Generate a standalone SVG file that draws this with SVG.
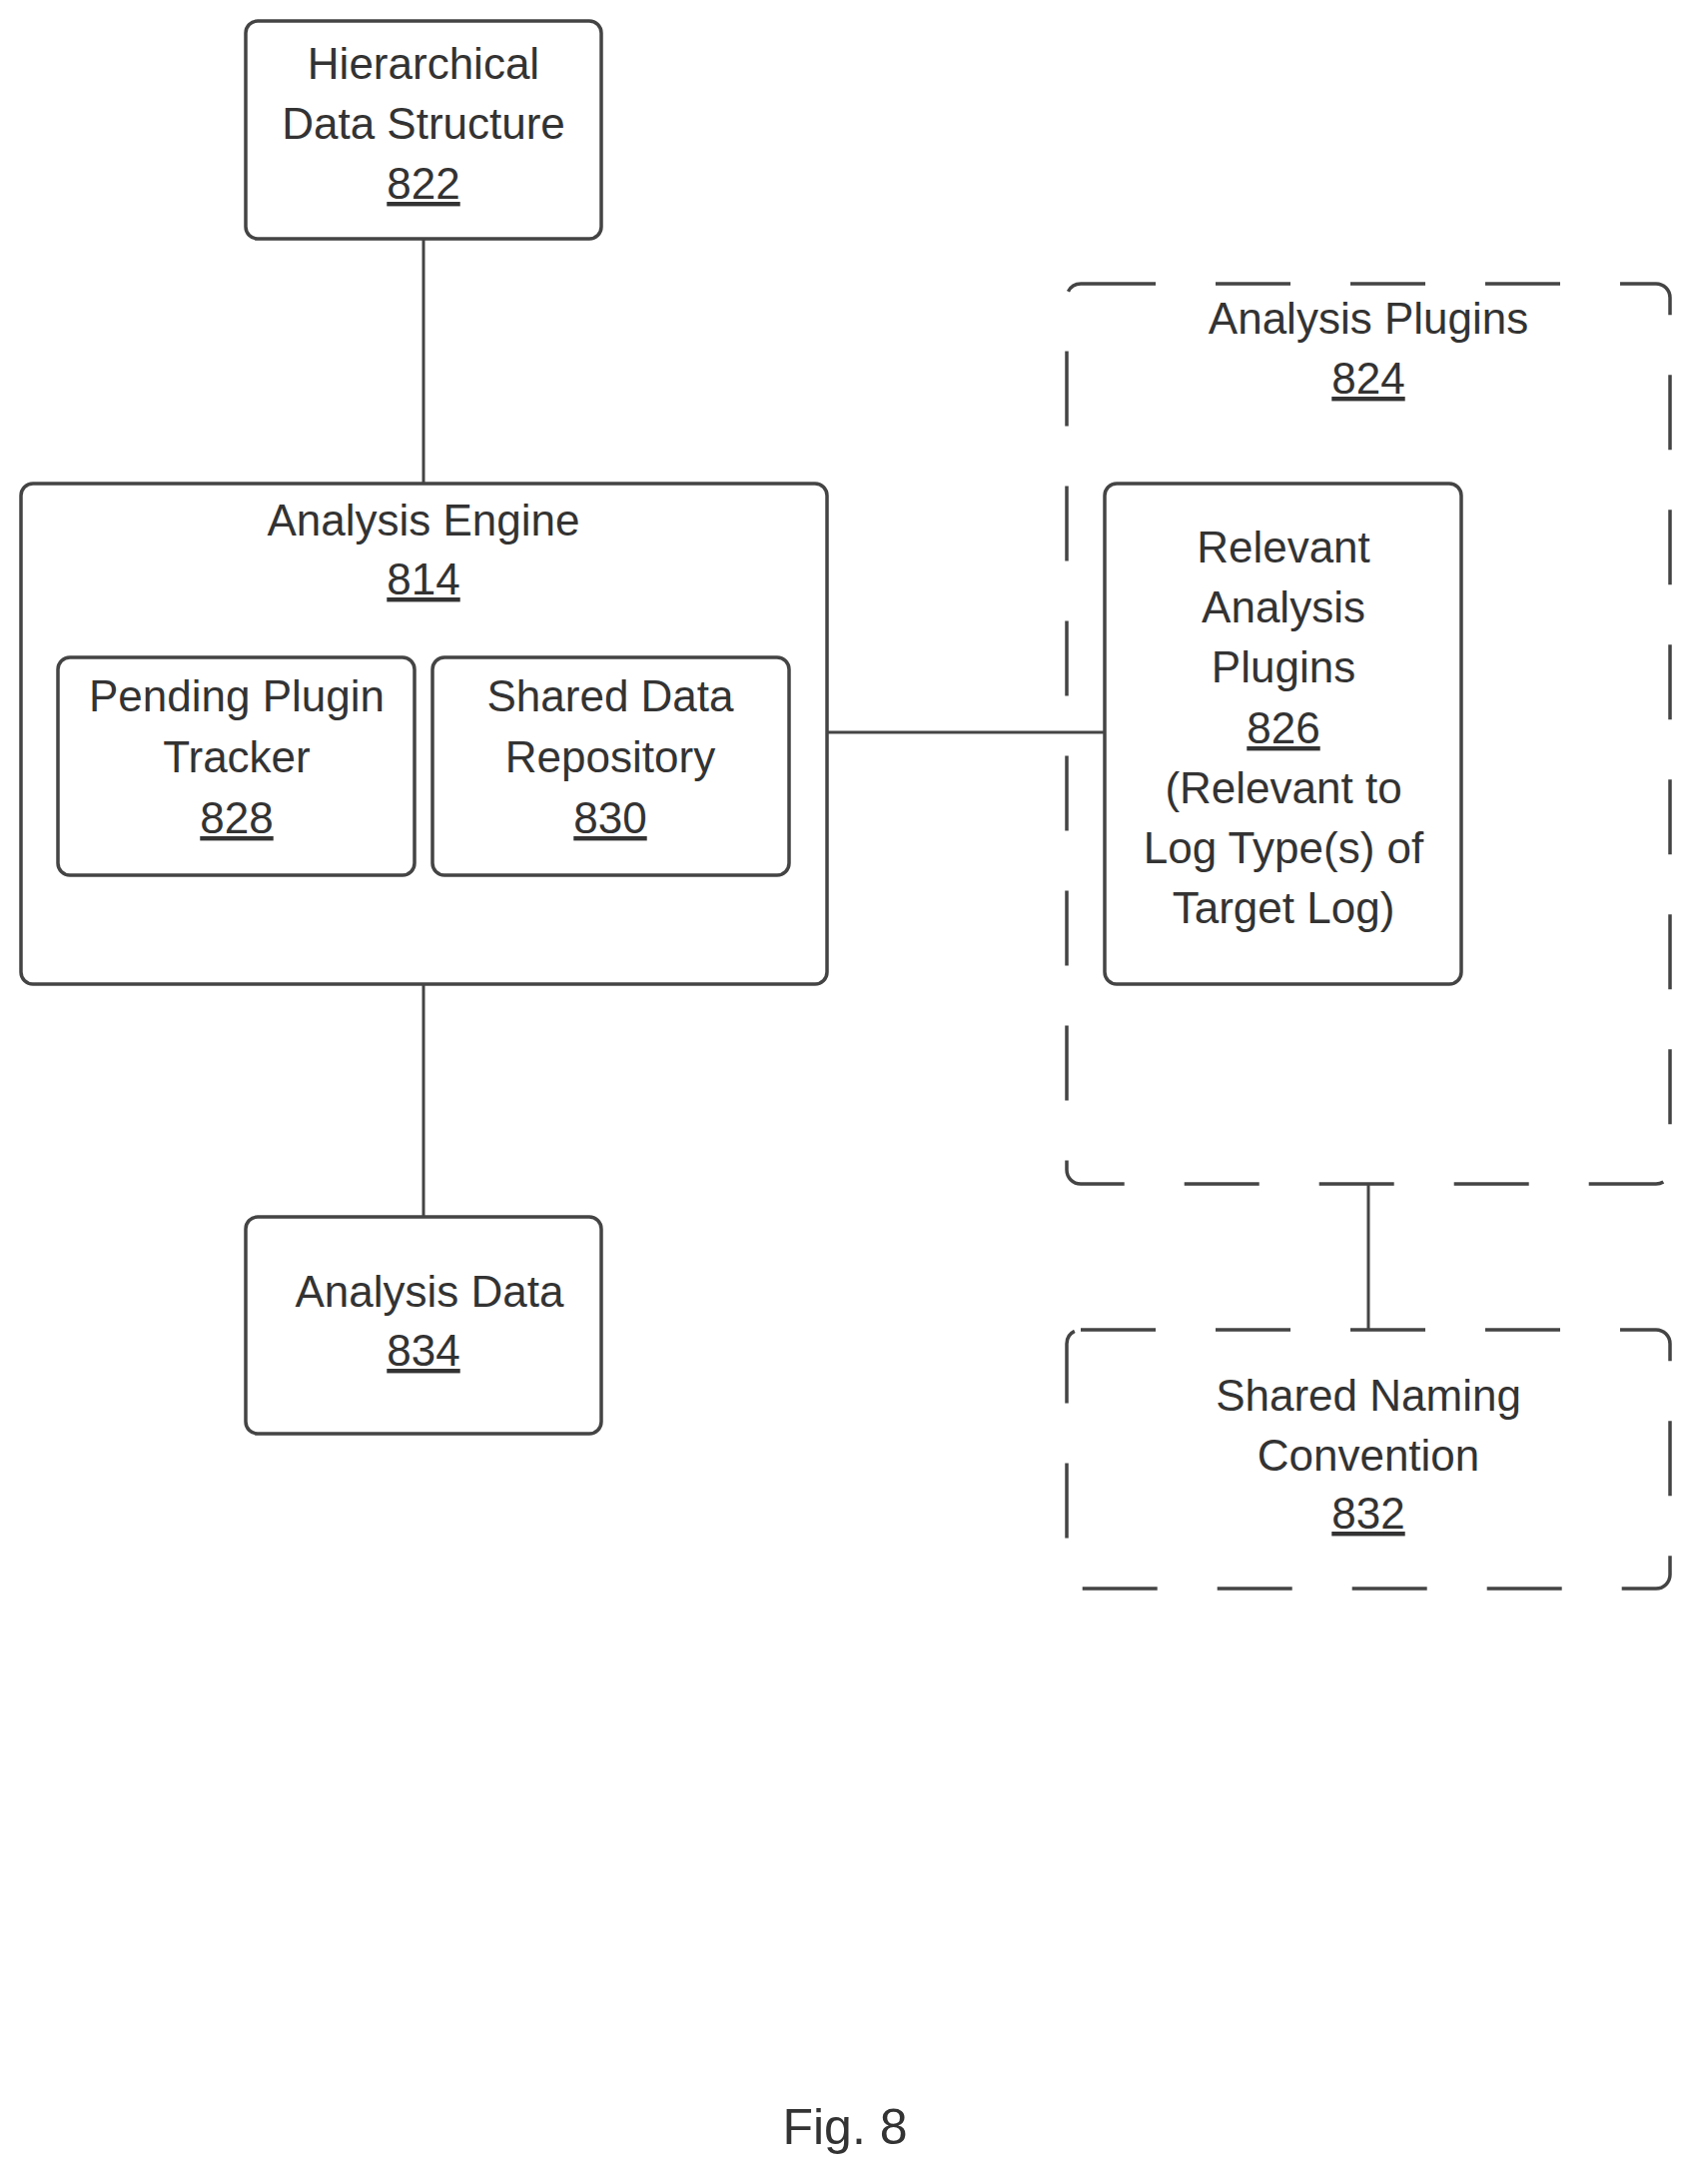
<svg xmlns="http://www.w3.org/2000/svg" width="1697" height="2186" viewBox="0 0 1697 2186">
<style>
.b{fill:#fff;stroke:#444;stroke-width:3.5}
.d{fill:none;stroke:#444;stroke-width:3.5;stroke-dasharray:75 60}
.c{stroke:#444;stroke-width:3;fill:none}
text{font-family:"Liberation Sans",Arial,sans-serif;font-size:44px;fill:#333;text-anchor:middle}
.u{text-decoration:underline}
</style>
<rect width="1697" height="2186" fill="#fff"/>
<g id="connectors">
<line class="c" x1="424" y1="239" x2="424" y2="484"/>
<line class="c" x1="424" y1="985" x2="424" y2="1218"/>
<line class="c" x1="828" y1="733" x2="1106" y2="733"/>
<line class="c" x1="1370" y1="1185" x2="1370" y2="1331"/>
</g>
<g id="n822"><rect class="b" x="246" y="21" width="356" height="218" rx="12"/>
<text x="424" y="79">Hierarchical</text><text x="424" y="139">Data Structure</text><text class="u" x="424" y="199">822</text></g>
<g id="n814"><rect class="b" x="21" y="484" width="807" height="501" rx="12"/>
<text x="424" y="536">Analysis Engine</text><text class="u" x="424" y="595">814</text></g>
<g id="n828"><rect class="b" x="58" y="658" width="357" height="218" rx="12"/>
<text x="237" y="712">Pending Plugin</text><text x="237" y="773">Tracker</text><text class="u" x="237" y="834">828</text></g>
<g id="n830"><rect class="b" x="433" y="658" width="357" height="218" rx="12"/>
<text x="611" y="712">Shared Data</text><text x="611" y="773">Repository</text><text class="u" x="611" y="834">830</text></g>
<g id="n834"><rect class="b" x="246" y="1218" width="356" height="217" rx="12"/>
<text x="430" y="1308">Analysis Data</text><text class="u" x="424" y="1367">834</text></g>
<g id="n824"><rect class="d" x="1068" y="284" width="604" height="901" rx="14"/>
<text x="1370" y="334">Analysis Plugins</text><text class="u" x="1370" y="394">824</text></g>
<g id="n826"><rect class="b" x="1106" y="484" width="357" height="501" rx="12"/>
<text x="1285" y="563">Relevant</text><text x="1285" y="623">Analysis</text><text x="1285" y="683">Plugins</text><text class="u" x="1285" y="744">826</text><text x="1285" y="804">(Relevant to</text><text x="1285" y="864">Log Type(s) of</text><text x="1285" y="924">Target Log)</text></g>
<g id="n832"><rect class="d" x="1068" y="1331" width="604" height="259" rx="14"/>
<text x="1370" y="1412">Shared Naming</text><text x="1370" y="1472">Convention</text><text class="u" x="1370" y="1530">832</text></g>
<text x="846" y="2146" style="font-size:50px">Fig. 8</text>
</svg>
